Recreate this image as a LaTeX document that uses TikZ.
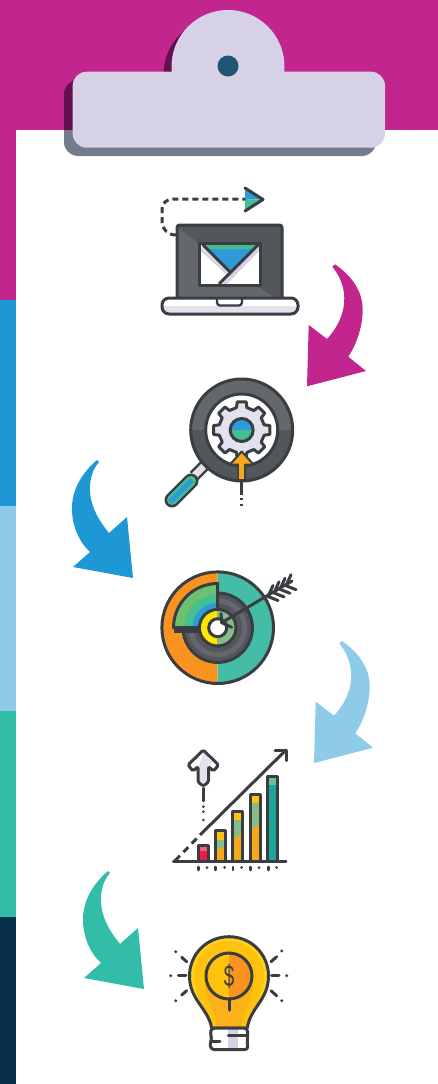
\documentclass[tikz,border=0pt]{standalone}
\usepackage{fontspec}
\setmainfont{Liberation Sans}
\usetikzlibrary{calc}
\definecolor{mag}{HTML}{C2258E}
\definecolor{magd}{HTML}{650F4E}
\definecolor{shad}{HTML}{757A8C}
\definecolor{blu}{HTML}{1E98D5}
\definecolor{lbl}{HTML}{8ECBE8}
\definecolor{tea}{HTML}{33BDA8}
\definecolor{nav}{HTML}{07304A}
\definecolor{ink}{HTML}{3A3D42}
\definecolor{lav}{HTML}{D6D1E6}
\definecolor{lav2}{HTML}{E4E1EF}
\definecolor{gdark}{HTML}{53565B}
\definecolor{glite}{HTML}{64686C}
\definecolor{sblu}{HTML}{2E9BD6}
\definecolor{sgrn}{HTML}{43BF94}
\definecolor{org}{HTML}{F7931E}
\definecolor{org2}{HTML}{F7A81B}
\definecolor{yel}{HTML}{FFC20E}
\definecolor{yel2}{HTML}{FFD21F}
\definecolor{amb}{HTML}{FBB117}
\definecolor{vyel}{HTML}{FFE600}
\definecolor{ttl}{HTML}{45BCA5}
\definecolor{sage}{HTML}{86BC8A}
\definecolor{dot}{HTML}{1F5673}
\definecolor{lgrn}{HTML}{6CC070}
\definecolor{pnk}{HTML}{F06277}
\definecolor{redd}{HTML}{ED1C45}
\definecolor{bgrn}{HTML}{6FBF8A}
\definecolor{btea}{HTML}{1BA89A}
\tikzset{
  x=1pt,y=-1pt,
  ln/.style={draw=ink,line width=3pt,line join=round,line cap=round},
  thinln/.style={draw=ink,line width=2.3pt,line cap=round},
  tick/.style={draw=ink,line width=2.6pt,line cap=round},
  dotm/.style={fill=ink,draw=none},
}
\newcommand{\arrR}[1]{\fill[#1] (332.3,266.7) -- (335,264.3) .. controls (352,276) and (363,292) .. (362.7,310) .. controls (362.5,328) and (356,345) .. (348.3,356.7) -- (366,371) -- (307,386.3) -- (308.7,325) -- (327,339) .. controls (338,327) and (344.5,313) .. (344.3,298) .. controls (344,285) and (339,275) .. (332.3,266.7) -- cycle;}
\newcommand{\arrL}[1]{\fill[#1] (97,460) -- (99,462) .. controls (92,470) and (89.5,480) .. (90,492) .. controls (91,507) and (99,521) .. (109,533) -- (127,517) -- (133,578) -- (73,567) -- (90,552) .. controls (79,542) and (71.5,525) .. (72,507) .. controls (72.5,488) and (83,472) .. (97,460) -- cycle;}
\newcommand{\bulbpath}{(211.7,1028) .. controls (208,1008) and (189.5,1000) .. (189.5,976) .. controls (189.5,954) and (207,936.7) .. (229,936.7) .. controls (251,936.7) and (268.5,954) .. (268.5,976) .. controls (268.5,1000) and (250,1008) .. (247.3,1028) -- cycle}
\begin{document}
\begin{tikzpicture}
\useasboundingbox (0,0) rectangle (438,1084);
\fill[white] (0,0) rectangle (438,1084);
% board edge
\fill[mag] (0,0) rectangle (438,130);
\fill[mag] (0,130) rectangle (16,300);
\fill[blu] (0,300) rectangle (16,506);
\fill[lbl] (0,506) rectangle (16,711);
\fill[tea] (0,711) rectangle (16,917);
\fill[nav] (0,917) rectangle (16,1084);
% clip shadow
\begin{scope}
\clip (0,0) rectangle (438,130);
\fill[magd] (220,74.5) circle[radius=56.5];
\fill[magd,rounded corners=14pt] (64,80) rectangle (376,156);
\end{scope}
\begin{scope}
\clip (0,130) rectangle (438,170);
\fill[shad,rounded corners=14pt] (64,80) rectangle (376,156);
\end{scope}
% clip
\fill[lav] (228,66.5) circle[radius=56.5];
\fill[lav,rounded corners=14pt] (72.7,71.7) rectangle (385,147.7);
\fill[dot] (228,66) circle[radius=10.5];
% arrows
\arrR{mag}
\begin{scope}[shift={(7,376.7)}]\arrR{lbl}\end{scope}
\arrL{blu}
\begin{scope}[shift={(11,411)}]\arrL{tea}\end{scope}
% laptop
\draw[ln,dash pattern=on 6pt off 4pt,line cap=butt] (176,235) .. controls (168,235) and (162,229) .. (162,222) -- (162,209) .. controls (162,203) and (167,199) .. (173,199) -- (247,199);
\fill[sblu] (245,188) -- (263,199.5) -- (245,199.5) -- cycle;
\fill[sgrn] (245,211) -- (263,199.5) -- (245,199.5) -- cycle;
\draw[ln] (245,188) -- (263,199.5) -- (245,211);
\fill[gdark,rounded corners=2.5pt] (177,225) rectangle (282,299);
\fill[glite] (178,228) -- (273,297) -- (178,297) -- cycle;
\draw[ln,rounded corners=2.5pt] (177,298) -- (177,225) -- (282,225) -- (282,298);
\fill[white] (199,243) rectangle (260,285);
\fill[lav] (201,247) -- (230,275) -- (259,247) -- (259,251) -- (226,285) -- (221,285) -- (229,277) -- (201,251) -- cycle;
\fill[sblu] (203,245) -- (257,245) -- (230,272) -- cycle;
\fill[sgrn] (203,245) -- (257,245) -- (253,249) -- (207,249) -- cycle;
\draw[ln] (199,243) rectangle (260,285);
\draw[ln] (203,245) -- (230,272);
\draw[ln] (258,245) -- (219.5,283.5);
\fill[white,rounded corners=7pt] (162,298) rectangle (298,314);
\begin{scope}
\clip (162,306) rectangle (298,316);
\fill[lav2,rounded corners=7pt] (162,298) rectangle (298,314);
\end{scope}
\draw[ln,rounded corners=7pt] (162,298) rectangle (298,314);
\draw[thinln,rounded corners=3pt] (217,299) -- (217,305.5) -- (242,305.5) -- (242,299);
% magnifier
\draw[ln,dash pattern=on 14pt off 3pt on 2pt off 3.5pt on 2pt off 3.5pt on 2pt off 3pt on 2pt,line cap=butt] (241.5,481) -- (241.5,508);
\draw[draw=ink,line width=12pt] (194,476) -- (208,462);
\draw[draw=lav2,line width=7pt] (194,476) -- (208,462);
\draw[draw=ink,line width=15pt,line cap=round] (172,500) -- (191,481);
\draw[draw=sgrn,line width=10pt,line cap=round] (172,500) -- (191,481);
\draw[draw=sblu,line width=5pt,line cap=butt] (170,502) -- (192,480);
\begin{scope}
\clip (180,370) rectangle (300,430);
\fill[glite] (241.7,430) circle[radius=51];
\end{scope}
\begin{scope}
\clip (180,430) rectangle (300,490);
\fill[gdark] (241.7,430) circle[radius=51];
\end{scope}
\draw[ln] (241.7,430) circle[radius=51];
\fill[white] (241.7,430) circle[radius=36];
\draw[ln] (241.7,430) circle[radius=36];
\begin{scope}[shift={(241.7,430)}]
\draw[ln,fill=lav2] (-13:23) \foreach \a in {0,45,...,315} { -- ({\a-13}:23) -- ({\a-9}:28.5) -- ({\a+9}:28.5) -- ({\a+13}:23) } -- cycle;
\begin{scope}
\clip (-13,-13) rectangle (13,0);
\fill[sblu] (0,0) circle[radius=11.5];
\end{scope}
\begin{scope}
\clip (-13,0) rectangle (13,13);
\fill[sgrn] (0,0) circle[radius=11.5];
\end{scope}
\draw[ln] (0,0) circle[radius=11.5];
\end{scope}
\draw[ln,line width=2pt,fill=org2] (241.7,451.5) -- (253.5,464.5) -- (245,464.5) -- (245,479) -- (238.5,479) -- (238.5,464.5) -- (230,464.5) -- cycle;
\fill[org2] (239.3,462) rectangle (244.3,478.5);
% target
\begin{scope}
\clip (150,560) rectangle (217.7,690);
\fill[org] (217.7,627.7) circle[radius=55.8];
\end{scope}
\begin{scope}
\clip (217.7,560) rectangle (300,690);
\fill[ttl] (217.7,627.7) circle[radius=55.8];
\end{scope}
\draw[ln] (217.7,627.7) circle[radius=55.8];
\fill[gdark] (217.7,627.7) circle[radius=34.7];
\draw[draw=glite,line width=5pt] (217.7,627.7) circle[radius=27];
\draw[ln] (217.7,627.7) circle[radius=34.7];
\begin{scope}
\clip (170,580) rectangle (217.7,627.7);
\fill[lgrn] (217.7,627.7) circle[radius=45];
\fill[sgrn] (217.7,627.7) circle[radius=33];
\fill[sblu] (217.7,627.7) circle[radius=25];
\end{scope}
\draw[ln] (217.7,627.7) -- (217.7,583.5) arc[start angle=-90,end angle=-180,radius=44.2] -- (217.7,627.7);
\fill[ink] (173.5,627) rectangle (200,633);
\begin{scope}
\clip (190,600) rectangle (217.7,655);
\fill[vyel] (217.7,627.7) circle[radius=18.3];
\end{scope}
\begin{scope}
\clip (217.7,600) rectangle (245,655);
\fill[sage] (217.7,627.7) circle[radius=18.3];
\end{scope}
\draw[ln] (217.7,627.7) circle[radius=18.3];
\fill[white] (217.7,627.7) circle[radius=9];
\draw[ln] (217.7,627.7) circle[radius=9];
\draw[ln] (221.7,622.7) -- (292,581);
\draw[ln] (221,613.5) -- (221.7,622.7) -- (231.7,627.3);
\foreach \i in {0,1,2,3}{
  \draw[ln] ($(268,596.5)+(\i*6,-\i*3.6)$) -- ++(5,-11);
  \draw[ln] ($(268,596.5)+(\i*6,-\i*3.6)$) -- ++(10,4);
}
% chart
\fill[pnk] (198.3,845.7) rectangle (208.3,851);
\fill[redd] (198.3,851) rectangle (208.3,861);
\fill[yel] (215.7,830) rectangle (225,840);
\fill[sage] (215.7,840) rectangle (225,850);
\fill[org2] (215.7,850) -- (225,846) -- (225,861) -- (215.7,861) -- cycle;
\fill[yel] (232.7,811) rectangle (242.7,820);
\fill[sage] (232.7,820) rectangle (242.7,840);
\fill[org2] (232.7,840) -- (242.7,833) -- (242.7,861) -- (232.7,861) -- cycle;
\fill[yel] (250,794) rectangle (260,803);
\fill[sage] (250,803) rectangle (260,830);
\fill[org2] (250,830) -- (260,824) -- (260,861) -- (250,861) -- cycle;
\fill[bgrn] (267.7,776) rectangle (277.7,785);
\fill[btea] (267.7,785) rectangle (277.7,861);
\draw[ln] (198.3,861) |- (208.3,845.7) -- (208.3,861);
\draw[ln] (215.7,861) |- (225,830) -- (225,861);
\draw[ln] (232.7,861) |- (242.7,811) -- (242.7,861);
\draw[ln] (250,861) |- (260,794) -- (260,861);
\draw[ln] (267.7,861) |- (277.7,776) -- (277.7,861);
\draw[ln] (173.3,861.7) -- (286,861.7);
\draw[ln,dash pattern=on 7pt off 5pt,line cap=butt] (175,860.7) -- (201.7,833.3);
\draw[ln] (201.7,833.3) -- (286,750);
\draw[ln] (275,750) -- (286,750) -- (286,760.7);
\fill[white] (203.3,750) -- (218,765) -- (214,771) -- (208,768) -- (208,782) -- (198.5,782) -- (198.5,768) -- (192,771) -- (188.3,765) -- cycle;
\fill[lav2] (203.3,752) -- (212,762) -- (208,768) -- (208,782) -- (198.5,782) -- (198.5,768) -- cycle;
\draw[ln,rounded corners=1.5pt] (203.3,750) -- (218.5,765) -- (213.5,771) -- (208.5,766.5) -- (208.5,782) -- (203.3,786) -- (198,782) -- (198,766.5) -- (193,771) -- (188,765) -- cycle;
\draw[thinln,line width=2.6pt] (203.3,788) -- (203.3,801);
\foreach \y in {806.7,811.7,820} \fill[dotm] (203.3,\y) circle[radius=1.5];
\foreach \x in {198.3,215.7,233,250.7,268.3} \draw[tick] (\x,867) -- (\x,870);
\foreach \x in {207,224.7,241.7,259,276.7} \fill[dotm] (\x,867.5) circle[radius=1.5];
% bulb
\fill[yel2] \bulbpath;
\begin{scope}
\clip \bulbpath;
\fill[yel] (229,976) circle[radius=35];
\fill[yel] (195,985) -- (263,985) -- (250,1030) -- (208,1030) -- cycle;
\fill[amb] (205,985) -- (253,985) .. controls (251,1005) and (242,1012) .. (241,1030) -- (217,1030) .. controls (216,1012) and (207,1005) .. (205,985) -- cycle;
\end{scope}
\draw[ln] \bulbpath;
\begin{scope}
\clip (200,950) rectangle (229,1002);
\fill[yel] (229,976) circle[radius=23];
\end{scope}
\begin{scope}
\clip (229,950) rectangle (258,1002);
\fill[org] (229,976) circle[radius=23];
\end{scope}
\draw[ln] (229,976) circle[radius=23];
\node[text=ink,font=\fontsize{26}{26}\selectfont,inner sep=0pt] (dollar) at (229,976) {\scalebox{0.72}[1.15]{\$}};
\draw[ln] (229,999) -- (229,1010);
\fill[white,rounded corners=3pt] (211,1027) rectangle (248,1050);
\fill[lav] (228.3,1028) rectangle (238.3,1049);
\draw[ln,rounded corners=3pt] (212,1028) -- (247,1028) -- (248,1035) -- (247,1041) -- (248,1049.5) -- (211,1049.5) -- (210,1043) -- (212,1038) -- (210,1033) -- cycle;
\draw[ln] (228.3,1035) -- (246.7,1035);
\draw[ln] (212,1041.7) -- (220,1041.7);
% rays
\draw[ln] (178.3,975.7) -- (186,975.7);
\draw[ln] (181.7,957.3) -- (186.7,961.7);
\draw[ln] (181.7,995) -- (186.7,990.7);
\draw[ln] (271.7,975.7) -- (279,975.7);
\draw[ln] (271,961.7) -- (276.7,956.7);
\draw[ln] (271,990.7) -- (276.7,995.7);
\foreach \x/\y in {170.7/975.7,175.7/951.7,175.7/1000.7,286.7/975.7,281.7/951,281.7/1000.7} \fill[dotm] (\x,\y) circle[radius=1.6];
\end{tikzpicture}
\end{document}
